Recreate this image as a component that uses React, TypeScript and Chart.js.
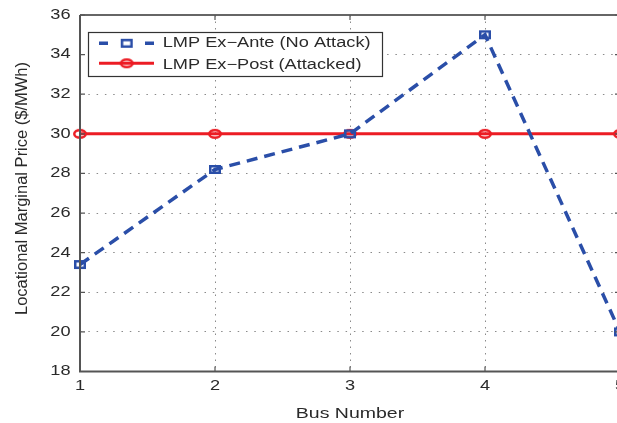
import React, { useEffect, useRef } from "react";
import { Chart, registerables } from "chart.js";

Chart.register(...registerables);

const busNumbers = [1, 2, 3, 4, 5];
const exAnte = [23.4, 28.2, 30, 35, 20];
const exPost = [30, 30, 30, 30, 30];
const seriesLabels = ["LMP Ex\u2212Ante (No Attack)", "LMP Ex\u2212Post (Attacked)"];
const xTitle = "Bus Number";
const yTitle = "Locational Marginal Price ($/MWh)";

const BLUE = "rgb(42,78,168)";
const RED = "rgb(236,28,36)";
const TEXT = "#2a2a2a";
const FONT = "'Liberation Sans', Arial, sans-serif";
const SX = 1.3;

function makeSquare() {
  const c = document.createElement("canvas");
  c.width = 14;
  c.height = 11;
  const g = c.getContext("2d")!;
  g.strokeStyle = BLUE;
  g.lineWidth = 2.5;
  g.strokeRect(2.25, 2.25, 9.5, 6.5);
  return c;
}
function makeCircle() {
  const c = document.createElement("canvas");
  c.width = 16;
  c.height = 12;
  const g = c.getContext("2d")!;
  g.strokeStyle = RED;
  g.lineWidth = 2.5;
  g.beginPath();
  g.ellipse(8, 6, 5.75, 3.75, 0, 0, Math.PI * 2);
  g.stroke();
  return c;
}

function sText(ctx: any, text: string, x: number, y: number, align: string, size: number, baseline = "middle") {
  ctx.save();
  ctx.font = `${size}px ${FONT}`;
  ctx.fillStyle = TEXT;
  ctx.textAlign = align;
  ctx.textBaseline = baseline;
  ctx.translate(x, y);
  ctx.scale(SX, 1);
  ctx.fillText(text, 0, 0);
  ctx.restore();
}

export default function App() {
  const ref = useRef<HTMLCanvasElement | null>(null);
  useEffect(() => {
    document.body.style.margin = "0";
    document.body.style.overflow = "hidden";
    const canvas = ref.current!;
    const sq = makeSquare();
    const ci = makeCircle();
    const framePlugin = {
      id: "frame",
      afterDatasetsDraw(chart: any) {
        const { ctx, chartArea: a } = chart;
        const xs = chart.scales.x, ys = chart.scales.y;
        ctx.save();
        ctx.strokeStyle = "#666";
        ctx.lineWidth = 2;
        ctx.beginPath();
        ctx.moveTo(a.left, a.top);
        ctx.lineTo(a.right, a.top);
        ctx.lineTo(a.right, a.bottom);
        ctx.stroke();
        ctx.strokeStyle = "#555";
        ctx.beginPath();
        ctx.moveTo(a.left, a.top);
        ctx.lineTo(a.left, a.bottom);
        ctx.lineTo(a.right, a.bottom);
        ctx.stroke();
        ctx.lineWidth = 1.2;
        ctx.beginPath();
        xs.ticks.forEach((t: any) => {
          const px = xs.getPixelForValue(t.value);
          ctx.moveTo(px, a.bottom);
          ctx.lineTo(px, a.bottom - 5);
          ctx.moveTo(px, a.top);
          ctx.lineTo(px, a.top + 5);
        });
        ys.ticks.forEach((t: any) => {
          const py = ys.getPixelForValue(t.value);
          ctx.moveTo(a.left, py);
          ctx.lineTo(a.left + 5, py);
          ctx.moveTo(a.right, py);
          ctx.lineTo(a.right - 5, py);
        });
        ctx.stroke();
        ctx.restore();
      },
      afterDraw(chart: any) {
        const { ctx, chartArea: a } = chart;
        const xs = chart.scales.x, ys = chart.scales.y;
        ys.ticks.forEach((t: any) => {
          sText(ctx, String(t.value), 70.5, ys.getPixelForValue(t.value), "right", 14);
        });
        xs.ticks.forEach((t: any) => {
          sText(ctx, String(t.value), xs.getPixelForValue(t.value), 386.5, "center", 14);
        });
        sText(ctx, xTitle, (a.left + a.right) / 2, 417.5, "center", 15, "alphabetic");
        ctx.save();
        ctx.font = `16.5px ${FONT}`;
        ctx.fillStyle = TEXT;
        ctx.textAlign = "center";
        ctx.textBaseline = "middle";
        ctx.translate(22, 188.5);
        ctx.rotate(-Math.PI / 2);
        ctx.fillText(yTitle, 0, 0);
        ctx.restore();
        // legend
        ctx.save();
        const bx = 88, by = 32, bw = 294, bh = 44;
        ctx.fillStyle = "#fff";
        ctx.fillRect(bx, by, bw, bh);
        ctx.strokeStyle = "#333";
        ctx.lineWidth = 1.2;
        ctx.strokeRect(bx + 0.5, by + 0.5, bw, bh);
        const y1 = 43.3, y2 = 63.3;
        ctx.strokeStyle = BLUE;
        ctx.lineWidth = 3.5;
        ctx.beginPath();
        ctx.moveTo(99, y1);
        ctx.lineTo(108, y1);
        ctx.moveTo(145, y1);
        ctx.lineTo(154, y1);
        ctx.stroke();
        ctx.drawImage(sq, 126.7 - 7, y1 - 5.5);
        ctx.strokeStyle = RED;
        ctx.lineWidth = 3;
        ctx.beginPath();
        ctx.moveTo(99, y2);
        ctx.lineTo(154, y2);
        ctx.stroke();
        ctx.drawImage(ci, 126.7 - 8, y2 - 6);
        ctx.restore();
        sText(ctx, seriesLabels[0], 162.7, 47.3, "left", 14, "alphabetic");
        sText(ctx, seriesLabels[1], 162.7, 68.8, "left", 14, "alphabetic");
      },
    };
    const chart = new Chart(canvas, {
      type: "line",
      data: {
        datasets: [
          {
            label: seriesLabels[0],
            data: busNumbers.map((x, i) => ({ x, y: exAnte[i] })),
            borderColor: BLUE,
            borderWidth: 3.5,
            borderDash: [11, 7],
            pointStyle: sq,
            pointRadius: 6,
            clip: false as any,
          },
          {
            label: seriesLabels[1],
            data: busNumbers.map((x, i) => ({ x, y: exPost[i] })),
            borderColor: RED,
            borderWidth: 3,
            pointStyle: ci,
            pointRadius: 6,
            clip: false as any,
          },
        ],
      },
      options: {
        animation: false,
        responsive: false,
        maintainAspectRatio: false,
        layout: { padding: { top: 15, right: 40, left: 0, bottom: 0 } },
        plugins: { legend: { display: false }, tooltip: { enabled: false } },
        scales: {
          x: {
            type: "linear",
            min: 1,
            max: 5,
            ticks: { stepSize: 1, display: false },
            grid: { color: "#8a8a8a", drawTicks: false, lineWidth: 1 },
            border: { display: false, dash: [1.5, 5] },
            afterFit(s: any) { s.height = 51.5; },
          },
          y: {
            min: 18,
            max: 36,
            ticks: { stepSize: 2, display: false },
            grid: { color: "#8a8a8a", drawTicks: false, lineWidth: 1 },
            border: { display: false, dash: [1.5, 6.8] },
            afterFit(s: any) { s.width = 80; },
          },
        },
      },
      plugins: [framePlugin],
    } as any);
    return () => chart.destroy();
  }, []);
  return (
    <div style={{ position: "absolute", left: 0, top: 0, width: 617, height: 423, overflow: "hidden" }}>
      <canvas ref={ref} width={660} height={423} style={{ width: 660, height: 423, display: "block" }} />
    </div>
  );
}
